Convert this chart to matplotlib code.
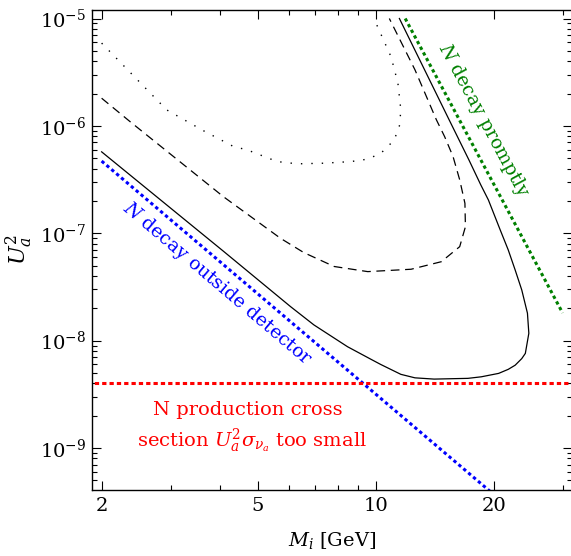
import matplotlib
matplotlib.use('Agg')
import matplotlib.pyplot as plt
from matplotlib.ticker import FixedLocator, LogLocator, NullFormatter, FixedFormatter

# Область параметров тяжёлого нейтрино: M_i [GeV] vs U_a^2

# Чувствительность (сплошная, штриховая, пунктирная)
m_solid = [2.0, 4.09, 6.07, 6.96, 8.48, 9.73, 10.3, 11.6, 12.6, 14.1, 17.2, 18.6,
           20.6, 21.8, 22.7, 23.6, 24.1, 24.6, 24.4, 23.6, 22.7, 21.8, 20.8, 19.4,
           18.55, 17.3, 15.4, 11.5]
u_solid = [5.73e-7, 6.8e-8, 2.07e-8, 1.40e-8, 8.77e-9, 6.7e-9, 6.0e-9, 4.85e-9,
           4.5e-9, 4.38e-9, 4.45e-9, 4.6e-9, 4.95e-9, 5.4e-9, 5.9e-9, 6.8e-9, 7.6e-9,
           1.17e-8, 1.8e-8, 2.96e-8, 4.55e-8, 6.98e-8, 1.07e-7, 2.04e-7, 2.82e-7,
           4.82e-7, 1.14e-6, 1.0e-5]

m_dashed = [2.0, 2.36, 4.09, 5.72, 6.56, 7.84, 9.55, 12.32, 14.71, 16.39, 16.95,
            16.9, 16.39, 15.76, 15.0, 14.29, 12.6, 10.84]
u_dashed = [1.81e-6, 1.10e-6, 2.19e-7, 8.97e-8, 6.6e-8, 4.9e-8, 4.39e-8, 4.62e-8,
            5.43e-8, 7.5e-8, 1.15e-7, 1.9e-7, 3.14e-7, 5.18e-7, 7.94e-7, 1.14e-6,
            3.33e-6, 1.0e-5]

m_dotted = [2.0, 2.93, 3.64, 4.34, 4.70, 5.61, 6.31, 7.39, 8.65, 9.55, 10.32, 10.74,
            11.16, 11.5, 11.6, 11.4, 10.95, 9.9]
u_dotted = [5.9e-6, 1.41e-6, 9.0e-7, 6.42e-7, 5.98e-7, 4.65e-7, 4.43e-7, 4.49e-7,
            4.65e-7, 4.9e-7, 5.57e-7, 6.42e-7, 7.41e-7, 1.0e-6, 1.4e-6, 2.5e-6,
            4.4e-6, 1.0e-5]

# Граничные линии
m_outside = [2.0, 20.0]
u_outside = [4.7e-7, 3.7e-10]

m_prompt = [11.9, 30.0]
u_prompt = [1.0e-5, 1.81e-8]

m_xsec = [1.0, 40.0]
u_xsec = [4e-9, 4e-9]

x_major = [2, 5, 10, 20]
x_minor = [3, 4, 6, 7, 8, 9, 30]
x_labels = ['2', '5', '10', '20']

plt.rcParams['font.family'] = ['DejaVu Serif']
plt.rcParams['mathtext.fontset'] = 'dejavuserif'
plt.rcParams['font.size'] = 14

fig = plt.figure(figsize=(5.71, 5.56), dpi=100)
ax = fig.add_axes([92 / 571, 66 / 556, 480 / 571, 480 / 556])
ax.set_xscale('log')
ax.set_yscale('log')
ax.set_xlim(1.89, 31.7)
ax.set_ylim(4.06e-10, 1.2e-5)

# Кривые
ax.plot(m_solid, u_solid, color='black', lw=0.9)
ax.plot(m_dashed, u_dashed, color='black', lw=0.9, linestyle=(0, (7, 4.5)))
ax.plot(m_dotted, u_dotted, color='black', lw=1.0, linestyle=(0, (1, 6.5)))

ax.plot(m_outside, u_outside, color='#0000ff', lw=2.2, linestyle=(0, (1.1, 1.0)),
        dash_capstyle='butt')
ax.plot(m_prompt, u_prompt, color='#008000', lw=2.2, linestyle=(0, (1.1, 1.0)),
        dash_capstyle='butt')
ax.plot(m_xsec, u_xsec, color='#ff0000', lw=2.2, linestyle=(0, (1.4, 1.0)),
        dash_capstyle='butt')

# Подписи
ax.text(3.95, 3.4e-8, '$N$ decay outside detector', color='#0000ff', rotation=-40.3,
        rotation_mode='anchor', ha='center', va='center', fontsize=13.5)
ax.text(18.9, 1.12e-6, '$N$ decay promptly', color='#008000', rotation=-61.7,
        rotation_mode='anchor', ha='center', va='center', fontsize=13.5)
ax.text(4.71, 2.03e-9, 'N production cross', color='#ff0000', ha='center',
        va='baseline', fontsize=14)
ax.text(4.85, 1.02e-9, r'section $U_a^2\sigma_{\nu_a}$ too small', color='#ff0000',
        ha='center', va='baseline', fontsize=14)

# Оси
ax.xaxis.set_major_locator(FixedLocator(x_major))
ax.xaxis.set_major_formatter(FixedFormatter(x_labels))
ax.xaxis.set_minor_locator(FixedLocator(x_minor))
ax.xaxis.set_minor_formatter(NullFormatter())
ax.yaxis.set_major_locator(LogLocator(base=10, numticks=20))
ax.yaxis.set_minor_locator(LogLocator(base=10, subs=range(2, 10), numticks=20))
ax.yaxis.set_minor_formatter(NullFormatter())

ax.tick_params(which='both', direction='in', top=True, right=True, width=0.8)
ax.tick_params(which='major', length=6.5)
ax.tick_params(which='minor', length=3.3)
ax.tick_params(axis='x', which='major', pad=5)
ax.tick_params(axis='y', which='major', pad=4)
for s in ax.spines.values():
    s.set_linewidth(1.0)

ax.set_xlabel(r'$M_i$ [GeV]', fontsize=14, labelpad=11)
ax.set_ylabel(r'$U_a^2$', fontsize=16)
ax.yaxis.set_label_coords(-0.118, 0.5)

fig.savefig('out.png', dpi=100)
